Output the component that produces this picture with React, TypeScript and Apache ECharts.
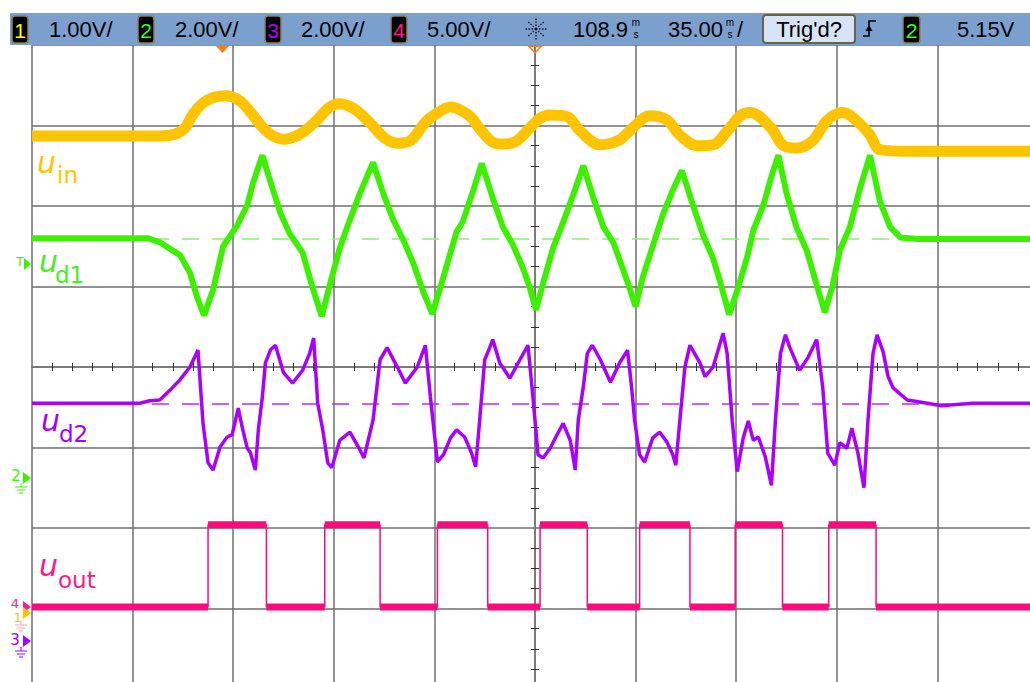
import React, { useEffect, useRef } from 'react';
import * as echarts from 'echarts';

// Screen coordinates in divisions: x -5..5 (10 div), y -4..4 (8 div)
const X_MIN = -5;
const X_MAX = 5;
const Y_MIN = -4;
const Y_MAX = 4;

// Channel 1: u_in (yellow)
const uIn: [number, number][] = [
  [-5.0, 2.87], [-3.73, 2.87], [-3.58, 2.89], [-3.48, 2.97], [-3.40, 3.14], [-3.30, 3.28], [-3.19, 3.35],
  [-3.08, 3.37], [-2.95, 3.32], [-2.83, 3.17], [-2.73, 3.01], [-2.63, 2.89], [-2.50, 2.83], [-2.34, 2.89],
  [-2.19, 3.04], [-2.04, 3.23], [-1.94, 3.27], [-1.79, 3.20], [-1.64, 3.03], [-1.49, 2.84], [-1.37, 2.78],
  [-1.24, 2.81], [-1.09, 3.04], [-0.99, 3.14], [-0.84, 3.23], [-0.65, 3.12], [-0.55, 2.96], [-0.40, 2.78],
  [-0.30, 2.77], [-0.18, 2.81], [-0.05, 2.97], [0.05, 3.09], [0.15, 3.13], [0.32, 3.11], [0.45, 2.93],
  [0.65, 2.76], [0.84, 2.82], [0.97, 2.97], [1.14, 3.12], [1.31, 3.07], [1.44, 2.88], [1.61, 2.75],
  [1.77, 2.76], [1.91, 2.93], [2.04, 3.12], [2.14, 3.16], [2.34, 2.98], [2.47, 2.75], [2.60, 2.72],
  [2.76, 2.81], [2.90, 3.06], [3.06, 3.16], [3.23, 3.02], [3.33, 2.88], [3.43, 2.70], [3.70, 2.68], [5.0, 2.68],
];

// Channel 2: u_d1 (green)
const uD1: [number, number][] = [
  [-5.0, 1.6], [-3.85, 1.6], [-3.73, 1.55], [-3.53, 1.39], [-3.43, 1.17], [-3.36, 0.87], [-3.29, 0.64],
  [-3.2, 0.96], [-3.1, 1.5], [-2.96, 1.76], [-2.86, 2.01], [-2.8, 2.3], [-2.71, 2.63], [-2.63, 2.3],
  [-2.53, 1.91], [-2.44, 1.66], [-2.31, 1.42], [-2.21, 0.98], [-2.12, 0.63], [-2.04, 1.02], [-1.94, 1.48],
  [-1.84, 1.83], [-1.74, 2.16], [-1.61, 2.54], [-1.51, 2.16], [-1.41, 1.83], [-1.31, 1.58], [-1.21, 1.29],
  [-1.11, 0.93], [-1.02, 0.66], [-0.91, 1.12], [-0.78, 1.68], [-0.72, 1.8], [-0.62, 2.17], [-0.53, 2.53],
  [-0.42, 2.1], [-0.32, 1.74], [-0.22, 1.52], [-0.12, 1.23], [-0.05, 0.98], [0.01, 0.71], [0.08, 1.04],
  [0.18, 1.48], [0.28, 1.8], [0.38, 2.14], [0.48, 2.5], [0.58, 2.1], [0.68, 1.74], [0.78, 1.54], [0.87, 1.23],
  [0.94, 0.98], [1.0, 0.75], [1.07, 1.11], [1.17, 1.5], [1.27, 1.89], [1.37, 2.2], [1.46, 2.44], [1.57, 2.01],
  [1.67, 1.64], [1.77, 1.35], [1.84, 1.06], [1.93, 0.65], [2.01, 0.95], [2.11, 1.37], [2.17, 1.7], [2.27, 2.01],
  [2.36, 2.41], [2.42, 2.63], [2.5, 2.16], [2.6, 1.73], [2.7, 1.45], [2.8, 1.02], [2.88, 0.68], [2.96, 1.02],
  [3.03, 1.45], [3.13, 1.74], [3.23, 2.22], [3.33, 2.63], [3.43, 2.05], [3.53, 1.74], [3.63, 1.61], [3.8, 1.59],
  [5.0, 1.59],
];

// Channel 3: u_d2 (purple)
const uD2: [number, number][] = [
  [-5, -0.45], [-3.93, -0.45], [-3.83, -0.42], [-3.73, -0.41], [-3.63, -0.29], [-3.53, -0.16], [-3.43, 0.0],
  [-3.35, 0.21], [-3.3, -0.7], [-3.25, -1.19], [-3.2, -1.28], [-3.13, -0.99], [-3.06, -0.87], [-3.01, -0.84],
  [-2.95, -0.51], [-2.91, -0.75], [-2.86, -1.01], [-2.83, -1.06], [-2.78, -1.28], [-2.75, -0.78], [-2.71, -0.37],
  [-2.68, 0.05], [-2.63, 0.21], [-2.58, 0.27], [-2.5, -0.07], [-2.41, -0.2], [-2.31, -0.04], [-2.24, 0.17],
  [-2.2, 0.36], [-2.16, -0.45], [-2.11, -0.78], [-2.06, -1.19], [-2.02, -1.25], [-1.94, -0.91], [-1.84, -0.81],
  [-1.74, -1.03], [-1.7, -1.13], [-1.61, -0.66], [-1.54, 0.09], [-1.47, 0.24], [-1.34, -0.07], [-1.29, -0.2],
  [-1.17, 0.0], [-1.09, 0.27], [-1.04, -0.37], [-0.97, -1.18], [-0.91, -1.09], [-0.84, -0.88], [-0.78, -0.78],
  [-0.7, -0.87], [-0.63, -1.07], [-0.59, -1.24], [-0.55, -0.66], [-0.5, 0.09], [-0.45, 0.24], [-0.42, 0.34],
  [-0.35, 0.05], [-0.25, -0.14], [-0.15, 0.09], [-0.07, 0.27], [-0.03, -0.25], [0.0, -0.66], [0.03, -1.09],
  [0.08, -1.13], [0.15, -1.01], [0.22, -0.84], [0.28, -0.7], [0.35, -0.91], [0.4, -1.28], [0.43, -0.66],
  [0.48, -0.25], [0.52, 0.17], [0.57, 0.27], [0.65, 0.09], [0.75, -0.19], [0.84, 0.05], [0.92, 0.21],
  [0.96, -0.25], [0.99, -0.66], [1.04, -1.09], [1.09, -1.18], [1.17, -0.88], [1.24, -0.81], [1.31, -0.93],
  [1.37, -1.09], [1.4, -1.22], [1.44, -0.66], [1.49, 0.0], [1.54, 0.27], [1.64, 0.05], [1.69, -0.12],
  [1.77, 0.0], [1.87, 0.42], [1.91, 0.17], [1.96, -0.66], [2.01, -1.3], [2.07, -0.88], [2.12, -0.67],
  [2.17, -0.91], [2.22, -0.87], [2.29, -1.12], [2.35, -1.47], [2.39, -0.66], [2.44, 0.17], [2.49, 0.4],
  [2.53, 0.25], [2.63, -0.04], [2.71, 0.11], [2.8, 0.34], [2.86, -0.25], [2.91, -1.07], [2.98, -1.22],
  [3.03, -0.94], [3.1, -1.01], [3.15, -0.76], [3.21, -1.07], [3.27, -1.5], [3.31, -0.66], [3.36, 0.17],
  [3.4, 0.4], [3.46, 0.19], [3.51, -0.12], [3.56, -0.26], [3.7, -0.41], [3.9, -0.45], [4.03, -0.48],
  [4.35, -0.45], [5, -0.45],
];

// Channel 4: u_out (pink square wave) — switching instants and levels
const uOutEdges = [-3.25, -2.67, -2.09, -1.54, -0.97, -0.47, 0.05, 0.52, 1.04, 1.54, 1.99, 2.46, 2.92, 3.39];
const uOutLow = -2.98;
const uOutHigh = -1.96;

// Reference (ground / trigger) dashed levels
const d1Level = 1.59;
const d2Level = -0.46;

// Header texts
const channelNames = ['1', '2', '3', '4'];
const channelScales = ['1.00V/', '2.00V/', '2.00V/', '5.00V/'];
const channelColors = ['#ffff00', '#33ff22', '#b000ff', '#ff1a8c'];
const timeRef = '108.9';
const timeScale = '35.00';
const trigStatus = "Trig'd?";
const trigSource = '2';
const trigLevel = '5.15V';

const traceColors = { uin: '#ffc400', ud1: '#3cf000', ud2: '#a900ff', uout: '#ff0a7e' };

function txt(text: string, x: number, y: number, font: string, fill: string, align = 'left', z = 100) {
  return {
    type: 'text',
    x,
    y,
    z,
    style: { text, font, fill, align, textAlign: align, verticalAlign: 'middle', textVerticalAlign: 'middle' },
  };
}

function ground(cx: number, y: number, color: string) {
  return [
    { type: 'line', z: 100, shape: { x1: cx, y1: y - 4, x2: cx, y2: y }, style: { stroke: color, lineWidth: 1 } },
    { type: 'line', z: 100, shape: { x1: cx - 6, y1: y, x2: cx + 6, y2: y }, style: { stroke: color, lineWidth: 1 } },
    { type: 'line', z: 100, shape: { x1: cx - 4, y1: y + 3, x2: cx + 4, y2: y + 3 }, style: { stroke: color, lineWidth: 1 } },
    { type: 'line', z: 100, shape: { x1: cx - 2, y1: y + 6, x2: cx + 2, y2: y + 6 }, style: { stroke: color, lineWidth: 1 } },
  ];
}

function buildGraphic() {
  const hdrFont = '22px "Liberation Sans", Arial, sans-serif';
  const smallFont = '10px "Liberation Sans", Arial, sans-serif';
  const els: any[] = [];
  els.push({ type: 'rect', z: 99, shape: { x: 10, y: 13, width: 1020, height: 32 }, style: { fill: '#7ca0cd' } });
  const boxX = [12, 138, 265, 391];
  const textX = [49, 175, 301, 427];
  channelNames.forEach((n, i) => {
    els.push({ type: 'rect', z: 100, shape: { x: boxX[i], y: 16, width: 16, height: 27, r: 3 }, style: { fill: '#000', stroke: '#8a8060', lineWidth: 1.5 } });
    els.push(txt(n, boxX[i] + 8, 30, '21px "Liberation Sans", Arial, sans-serif', channelColors[i], 'center', 101));
    els.push(txt(channelScales[i], textX[i], 29, hdrFont, '#000'));
  });
  // acquisition icon
  const cx = 536, cy = 29;
  for (let k = 0; k < 8; k++) {
    const a = (k * Math.PI) / 4;
    els.push({ type: 'line', z: 100, shape: { x1: cx + 3 * Math.cos(a), y1: cy + 3 * Math.sin(a), x2: cx + 12 * Math.cos(a), y2: cy + 11 * Math.sin(a) }, style: { stroke: '#111', lineWidth: 1.3, lineDash: [1.5, 1.5] } });
  }
  els.push({ type: 'circle', z: 100, shape: { cx, cy, r: 1.5 }, style: { fill: '#111' } });
  // time reference and scale
  els.push(txt(timeRef, 573, 29, hdrFont, '#000'));
  els.push(txt('m', 636, 22, smallFont, '#000', 'center'));
  els.push(txt('s', 636, 34, smallFont, '#000', 'center'));
  els.push(txt(timeScale, 668, 29, hdrFont, '#000'));
  els.push(txt('m', 730, 22, smallFont, '#000', 'center'));
  els.push(txt('s', 730, 34, smallFont, '#000', 'center'));
  els.push(txt('/', 737, 29, hdrFont, '#000'));
  // trigger status
  els.push({ type: 'rect', z: 100, shape: { x: 763, y: 15, width: 92, height: 28, r: 3 }, style: { fill: '#d6e4f6', stroke: '#6a6248', lineWidth: 2 } });
  els.push(txt(trigStatus, 809, 29, '22px "Liberation Sans", Arial, sans-serif', '#000', 'center', 101));
  // edge icon
  els.push({ type: 'polyline', z: 100, shape: { points: [[863, 36], [869, 36], [869, 21], [876, 21]] }, style: { stroke: '#000', lineWidth: 1.6, fill: 'none' } });
  els.push({ type: 'polygon', z: 100, shape: { points: [[865.5, 31], [869, 25], [872.5, 31]] }, style: { fill: '#000' } });
  // trigger source and level
  els.push({ type: 'rect', z: 100, shape: { x: 903, y: 16, width: 17, height: 27, r: 3 }, style: { fill: '#000', stroke: '#8a8060', lineWidth: 1.5 } });
  els.push(txt(trigSource, 911.5, 30, '21px "Liberation Sans", Arial, sans-serif', '#33ff22', 'center', 101));
  els.push(txt(trigLevel, 957, 29, hdrFont, '#000'));
  // time markers
  els.push({ type: 'polygon', z: 100, shape: { points: [[216, 46], [229, 46], [222.5, 53]] }, style: { fill: '#f08020' } });
  els.push({ type: 'polygon', z: 100, shape: { points: [[529, 46.5], [541, 46.5], [535, 53]] }, style: { fill: 'none', stroke: '#f08020', lineWidth: 1.5 } });

  // left markers
  const mkFont = '15px "DejaVu Sans", sans-serif';
  const mkSmall = '13px "DejaVu Sans", sans-serif';
  els.push(txt('T', 20, 262, '12px "DejaVu Sans", sans-serif', '#3cf000', 'center'));
  els.push({ type: 'polygon', z: 100, shape: { points: [[24, 258], [31, 264], [24, 270]] }, style: { fill: '#3cf000' } });
  els.push(txt('2', 16, 476, mkFont, '#3cf000', 'center'));
  els.push({ type: 'polygon', z: 100, shape: { points: [[23, 472], [31, 478], [23, 484]] }, style: { fill: '#3cf000' } });
  els.push(...ground(21, 487, '#3cf000'));
  els.push(txt('4', 15, 603, mkSmall, '#ff1a8c', 'center'));
  els.push({ type: 'polygon', z: 100, shape: { points: [[23, 601], [31, 607], [23, 613]] }, style: { fill: '#ff1a8c' } });
  els.push(txt('1', 18, 617, mkSmall, '#ffc400', 'center'));
  els.push({ type: 'polygon', z: 100, shape: { points: [[23, 607], [31, 613], [23, 619]] }, style: { fill: '#ffc400' } });
  els.push(...ground(21, 625, '#f5a0b0'));
  els.push(txt('3', 15, 640, mkFont, '#a900ff', 'center'));
  els.push({ type: 'polygon', z: 100, shape: { points: [[23, 635], [31, 641], [23, 647]] }, style: { fill: '#a900ff' } });
  els.push(...ground(21, 651, '#a900ff'));

  // trace labels
  const uFont = 'italic 30px "DejaVu Sans", sans-serif';
  const sFont = '23px "DejaVu Sans", sans-serif';
  const labels = [
    { sub: 'in', x: 37, uy: 162, sx: 57, sy: 175, color: '#ffc400' },
    { sub: 'd1', x: 39, uy: 261, sx: 55, sy: 275, color: '#44ee22' },
    { sub: 'd2', x: 41, uy: 420, sx: 59, sy: 434, color: '#a400ff' },
    { sub: 'out', x: 39, uy: 565, sx: 58, sy: 580, color: '#ff1a88' },
  ];
  labels.forEach((l) => {
    els.push(txt('u', l.x, l.uy, uFont, l.color));
    els.push(txt(l.sub, l.sx, l.sy, sFont, l.color));
  });
  return els;
}

function buildOption() {
  const uOutStep: [number, number][] = [[X_MIN, uOutLow]];
  uOutEdges.forEach((e, i) => uOutStep.push([e, i % 2 === 0 ? uOutHigh : uOutLow]));
  uOutStep.push([X_MAX, uOutLow]);
  const bounds = [X_MIN, ...uOutEdges, X_MAX];
  const uOutFlats: any[] = [];
  for (let i = 0; i < bounds.length - 1; i++) {
    const lvl = i % 2 === 0 ? uOutLow : uOutHigh;
    uOutFlats.push([bounds[i], lvl], [bounds[i + 1], lvl], [bounds[i + 1], '-']);
  }

  const splitStyle = { color: '#6e6e6e', width: 1.5 };
  const mkX = (position: string, split: boolean) => ({
    type: 'value', min: X_MIN, max: X_MAX, interval: 1, position,
    axisLine: { show: true, onZero: true, lineStyle: { color: '#7a7a7a', width: 1.5 } },
    axisTick: { show: false },
    axisLabel: { show: false },
    minorTick: { show: true, splitNumber: 5, length: 4, lineStyle: { color: '#333', width: 1 } },
    splitLine: { show: split, lineStyle: splitStyle },
  });
  const mkY = (position: string, split: boolean) => ({
    type: 'value', min: Y_MIN, max: Y_MAX, interval: 1, position,
    axisLine: { show: true, onZero: true, lineStyle: { color: '#7a7a7a', width: 1.5 } },
    axisTick: { show: false },
    axisLabel: { show: false },
    minorTick: { show: true, splitNumber: 4, length: 4, lineStyle: { color: '#333', width: 1 } },
    splitLine: { show: split, lineStyle: splitStyle },
  });

  return {
    animation: false,
    backgroundColor: '#ffffff',
    grid: { left: 32, top: 45, width: 1006, height: 644, show: false, outerBoundsMode: 'none', containLabel: false },
    xAxis: [mkX('bottom', true), mkX('top', false)],
    yAxis: [mkY('left', true), mkY('right', false)],
    graphic: { elements: buildGraphic() },
    series: [
      {
        type: 'line', name: 'u_in', data: uIn, symbol: 'none', smooth: 0.35, z: 5,
        lineStyle: { color: traceColors.uin, width: 11 },
      },
      {
        type: 'line', name: 'u_d1', data: uD1, symbol: 'none', z: 6,
        lineStyle: { color: traceColors.ud1, width: 6 },
        markLine: {
          silent: true, symbol: 'none', label: { show: false },
          lineStyle: { color: '#8cf070', width: 1.5, type: [17, 13] },
          data: [{ yAxis: d1Level }],
        },
      },
      {
        type: 'line', name: 'u_d2', data: uD2, symbol: 'none', z: 7,
        lineStyle: { color: traceColors.ud2, width: 3.5 },
        markLine: {
          silent: true, symbol: 'none', label: { show: false },
          lineStyle: { color: '#b030ff', width: 1.5, type: [17, 13] },
          data: [{ yAxis: d2Level }],
        },
      },
      {
        type: 'line', name: 'u_out', data: uOutStep, step: 'end', symbol: 'none', z: 8,
        lineStyle: { color: traceColors.uout, width: 1.5 },
      },
      {
        type: 'line', name: 'u_out band', data: uOutFlats, symbol: 'none', z: 8, connectNulls: false,
        lineStyle: { color: traceColors.uout, width: 7, cap: 'butt' },
      },
    ],
  };
}

export default function App() {
  const ref = useRef<HTMLDivElement>(null);
  useEffect(() => {
    if (!ref.current) return;
    const chart = echarts.init(ref.current, undefined, { renderer: 'svg' });
    chart.setOption(buildOption() as any);
    return () => chart.dispose();
  }, []);
  return (
    <div
      ref={ref}
      style={{ position: 'absolute', left: 0, top: 0, width: 1030, height: 682, background: '#fff' }}
    />
  );
}
